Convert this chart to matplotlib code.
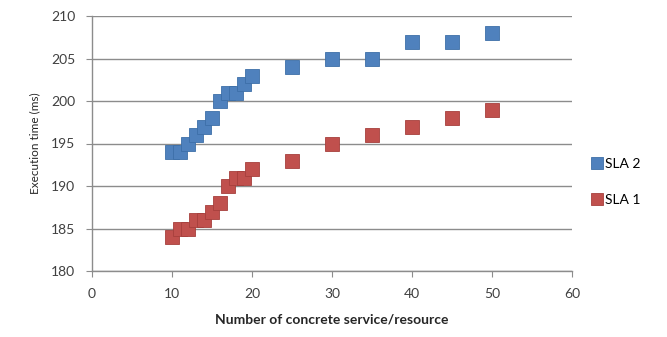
import matplotlib
matplotlib.use('Agg')
import matplotlib.pyplot as plt

# data
x_vals = [10, 11, 12, 13, 14, 15, 16, 17, 18, 19, 20, 25, 30, 35, 40, 45, 50]
sla2 = [194, 194, 195, 196, 197, 198, 200, 201, 201, 202, 203, 204, 205, 205, 207, 207, 208]
sla1 = [184, 185, 185, 186, 186, 187, 188, 190, 191, 191, 192, 193, 195, 196, 197, 198, 199]
x_ticks = [0, 10, 20, 30, 40, 50, 60]
y_ticks = [180, 185, 190, 195, 200, 205, 210]

plt.rcParams['font.family'] = ['Lato', 'DejaVu Sans']

fig = plt.figure(figsize=(6.67, 3.37), dpi=100)
ax = fig.add_axes([92 / 667, 66 / 337, 480 / 667, 255 / 337])

grey = '#8c8c8c'
blue = '#4f81bd'
red = '#c0504d'

h2, = ax.plot(x_vals, sla2, 's', color=blue, markersize=9.5,
              markeredgecolor='#3d6fa8', markeredgewidth=0.6, label='SLA 2')
h1, = ax.plot(x_vals, sla1, 's', color=red, markersize=9.5,
              markeredgecolor='#a63f3c', markeredgewidth=0.6, label='SLA 1')

ax.set_xlim(0, 60)
ax.set_ylim(180, 210)
ax.set_xticks(x_ticks)
ax.set_yticks(y_ticks)
ax.grid(True, axis='y', color=grey, linewidth=1.0)
ax.set_axisbelow(True)

for side in ['top', 'right']:
    ax.spines[side].set_visible(False)
for side in ['left', 'bottom']:
    ax.spines[side].set_color(grey)
    ax.spines[side].set_linewidth(1.0)

ax.tick_params(axis='both', colors=grey, labelcolor='#404040',
               labelsize=10, length=4, direction='out')
ax.tick_params(axis='y', pad=8)
ax.tick_params(axis='x', pad=8)

ax.set_xlabel('Number of concrete service/resource', fontsize=10,
              fontweight='bold', color='#262626', labelpad=10)
ax.set_ylabel('Execution time (ms)', fontsize=8.5, color='#262626', labelpad=8)

fig.legend(handles=[h2, h1], loc='center left', bbox_to_anchor=(580 / 667, 1 - 182 / 337),
           frameon=False, fontsize=10, handlelength=0.6, handletextpad=0.3,
           labelspacing=1.75, markerscale=0.9)

fig.savefig('out.png', dpi=100)
